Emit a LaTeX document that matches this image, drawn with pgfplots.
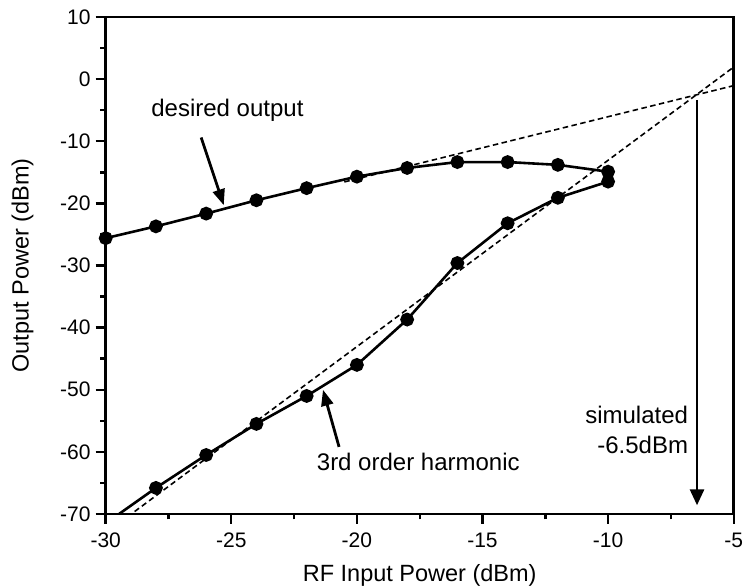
\documentclass[border=0pt]{standalone}
\usepackage{fontspec}
\setmainfont{Liberation Sans}
\usepackage{pgfplots}
\pgfplotsset{compat=1.18}
\usetikzlibrary{arrows.meta}
\begin{document}
\begin{tikzpicture}
\begin{axis}[
  scale only axis,
  width=628pt, height=497pt,
  xmin=-30, xmax=-5, ymin=-70, ymax=10,
  xtick={-30,-25,-20,-15,-10,-5},
  xticklabels={-30,-25,-20,-15,-10,-5},
  ytick={-70,-60,-50,-40,-30,-20,-10,0,10},
  yticklabels={-70,-60,-50,-40,-30,-20,-10,0,10},
  minor x tick num=1, minor y tick num=1,
  tick pos=left, tick align=outside,
  major tick length=10pt, minor tick length=5.5pt,
  every tick/.style={line width=2.4pt, black},
  axis line style={line width=2.8pt},
  tick label style={font=\fontsize{21}{23}\selectfont},
  xticklabel style={inner sep=1pt, yshift=-8pt},
  yticklabel style={inner sep=5pt},
  xlabel={RF Input Power (dBm)},
  ylabel={Output Power (dBm)},
  label style={font=\fontsize{23.5}{26}\selectfont},
  xlabel style={at={(axis description cs:0.5,-0.1362)}, anchor=base},
  ylabel style={at={(axis description cs:-0.1229,0.5)}, anchor=base},
]
\coordinate (sw) at (rel axis cs:0,0);
\coordinate (ne) at (rel axis cs:1,1);
% dashed asymptotes
\addplot[black, line width=1.6pt, dash pattern=on 5.5pt off 3.5pt] coordinates {(-20.5,-16.55) (-5,-1.05)};
\addplot[black, line width=1.6pt, dash pattern=on 5.5pt off 3.5pt] coordinates {(-30,-73.06) (-5,1.94)};
% desired output
\addplot[black, line width=2.6pt, mark=*, mark size=5.6pt] coordinates {
(-30,-25.6) (-28,-23.7) (-26,-21.65) (-24,-19.5) (-22,-17.55) (-20,-15.7)
(-18,-14.3) (-16,-13.35) (-14,-13.35) (-12,-13.8) (-10,-14.9)};
% 3rd order harmonic
\addplot[black, line width=2.6pt] coordinates {(-29.47,-70) (-28,-65.8)};
\addplot[black, line width=2.6pt, mark=*, mark size=5.6pt] coordinates {
(-28,-65.8) (-26,-60.5) (-24,-55.5) (-22,-51.0) (-20,-46.0) (-18,-38.7)
(-16,-29.6) (-14,-23.2) (-12,-19.1) (-10,-16.5)};
% annotations
\node[anchor=base west, inner sep=0pt, font=\fontsize{24}{28}\selectfont] at (axis cs:-28.19,-6.05) {desired output};
\draw[line width=2.8pt, -{Triangle[length=16pt,width=12pt]}] (axis cs:-26.2,-9.4) -- (axis cs:-25.3,-20.3);
\node[anchor=base west, inner sep=0pt, font=\fontsize{24}{28}\selectfont] at (axis cs:-21.6,-63.0) {3rd order harmonic};
\draw[line width=2.8pt, -{Triangle[length=16pt,width=12pt]}] (axis cs:-20.71,-59.2) -- (axis cs:-21.35,-50.0);
\node[anchor=base east, inner sep=0pt, font=\fontsize{24}{28}\selectfont] at (axis cs:-6.81,-55.4) {simulated};
\node[anchor=base east, inner sep=0pt, font=\fontsize{24}{28}\selectfont] at (axis cs:-6.81,-60.2) {-6.5dBm};
\draw[line width=2.8pt, -{Triangle[length=16pt,width=14pt]}] (axis cs:-6.46,-3.4) -- (axis cs:-6.46,-68.6);
\end{axis}
\pgfresetboundingbox
\path[use as bounding box] ([shift={(-105.7pt,-74pt)}]sw) rectangle ([shift={(10.3pt,17pt)}]ne);
\end{tikzpicture}
\end{document}
